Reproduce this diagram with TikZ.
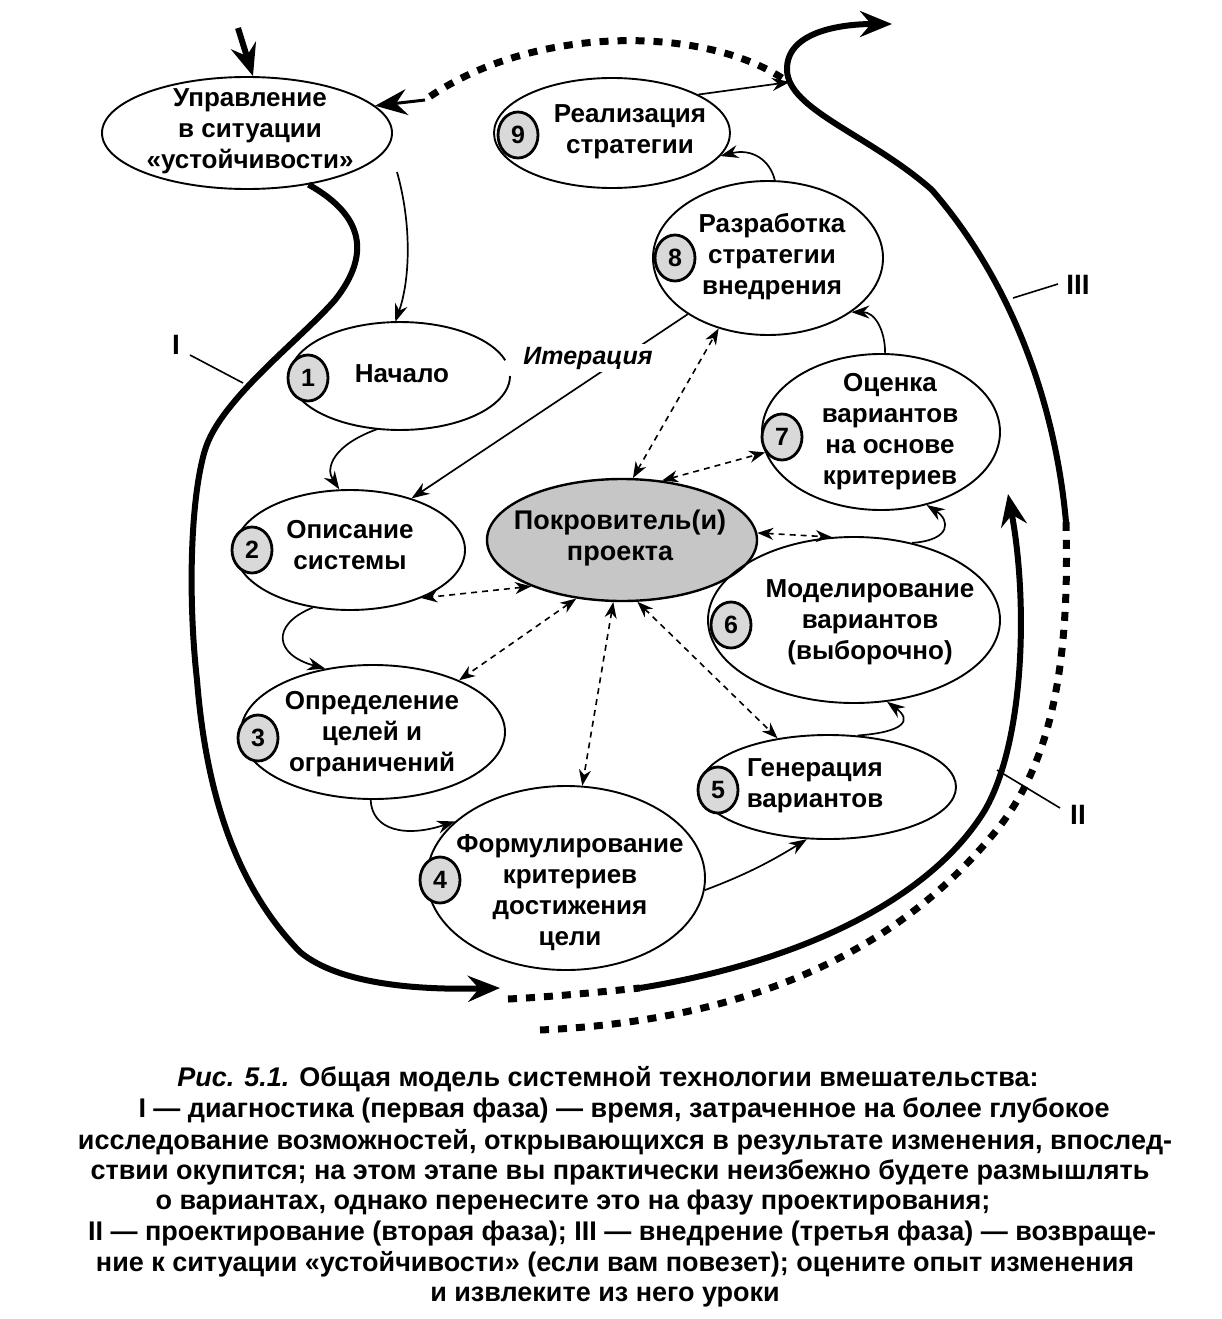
\documentclass[tikz,border=0pt]{standalone}
\usepackage{fontspec}
\setmainfont{Liberation Sans}
\usetikzlibrary{shapes.geometric,arrows.meta}
\begin{document}
\begin{tikzpicture}[x=1pt,y=-1pt,
  ell/.style={ellipse,draw,line width=1.9pt,inner sep=0pt},
  num/.style={ellipse,draw,line width=2.8pt,fill=gray!30,minimum width=40pt,minimum height=46pt,inner sep=0pt,font=\bfseries\fontsize{25}{25}\selectfont},
  lbl/.style={align=center,font=\bfseries\fontsize{26}{31}\selectfont,inner sep=0pt},
  arr/.style={line width=1.7pt,-{Stealth[length=18pt,width=13pt,inset=6pt]}},
  darr/.style={line width=1.6pt,dash pattern=on 6pt off 5pt,{Stealth[length=16pt,width=12pt,inset=5pt]}-{Stealth[length=16pt,width=12pt,inset=5pt]}},
  big/.style={line width=6pt},
  bigdot/.style={line width=7pt,dash pattern=on 9pt off 9pt},
  bigtip/.style={-{Stealth[length=32pt,width=26pt,inset=11pt]}},
  phase/.style={font=\bfseries\fontsize{28}{28}\selectfont,inner sep=0pt},
  captext/.style={font=\bfseries\fontsize{27}{31}\selectfont,inner sep=0pt,anchor=base}
]
\useasboundingbox (0,0) rectangle (1221,1319);

% ellipses
\node[ell,minimum width=290pt,minimum height=112pt] (U) at (247,133) {};
\node[ell,minimum width=236pt,minimum height=110pt] (R9) at (612,133) {};
\node[ell,minimum width=230pt,minimum height=154pt] (R8) at (768,258) {};
\node[ellipse,inner sep=0pt,minimum width=220pt,minimum height=108pt] (N1) at (400,376) {};
\draw[line width=1.9pt] plot[domain=0:343,samples=80] ({400+110*cos(\x)},{376+54*sin(\x)});
\node[ell,minimum width=238pt,minimum height=156pt] (O7) at (881,432) {};
\node[ell,minimum width=230pt,minimum height=120pt] (D2) at (350,550) {};
\node[ell,fill=gray!45,line width=2.4pt,minimum width=270pt,minimum height=122pt] (P) at (622,540) {};
\node[ell,minimum width=292pt,minimum height=166pt] (M6) at (854,620) {};
\node[ell,minimum width=264pt,minimum height=134pt] (O3) at (373,732) {};
\node[ell,minimum width=256pt,minimum height=104pt] (G5) at (828,787) {};
\node[ell,minimum width=278pt,minimum height=184pt] (F4) at (566,878) {};

% number circles
\node[num] (n9) at (518,135) {9};
\node[num] (n8) at (675,258) {8};
\node[num] (n1) at (308,378) {1};
\node[num] (n7) at (782,437) {7};
\node[num] (n2) at (252,550) {2};
\node[num] (n6) at (731,625) {6};
\node[num] (n3) at (258,738) {3};
\node[num] (n5) at (718,790) {5};
\node[num] (n4) at (440,880) {4};

% texts
\node[lbl] (tU) at (250,131) {Управление\\в ситуации\\«устойчивости»};
\node[lbl] (t9) at (630,132) {Реализация\\стратегии};
\node[lbl] (t8) at (772,257) {Разработка\\стратегии\\внедрения};
\node[lbl] (t1) at (402,374) {Начало};
\node[lbl] (t7) at (890,432) {Оценка\\вариантов\\на основе\\критериев};
\node[lbl] (t2) at (350,545) {Описание\\системы};
\node[lbl,font=\bfseries\fontsize{27}{31}\selectfont] (tP) at (620,538) {Покровитель(и)\\проекта};
\node[lbl] (t6) at (870,622) {Моделирование\\вариантов\\(выборочно)};
\node[lbl] (t3) at (372,734) {Определение\\целей и\\ограничений};
\node[lbl] (t5) at (815,786) {Генерация\\вариантов};
\node[lbl] (t4) at (570,893) {Формулирование\\критериев\\достижения\\цели};

% iteration
\draw[arr] (R8.215) -- (D2.40);
\node[lbl,fill=white,inner sep=3pt,font=\bfseries\itshape\fontsize{25}{25}\selectfont] (it) at (588,358) {Итерация};

% solid thin arrows
\coordinate (s0) at (397,172);
\draw[arr] (s0) .. controls (412,225) and (410,280) .. (N1.95);
\draw[arr] (N1.247) .. controls (333,445) and (325,468) .. (D2.100);
\draw[arr] (D2.237) .. controls (270,625) and (275,655) .. (O3.127);
\draw[arr] (O3.268) .. controls (372,830) and (405,838) .. (F4.153);
\draw[arr] (F4.355) .. controls (745,875) and (770,862) .. (G5.248);
\draw[arr] (G5.60) .. controls (905,732) and (912,720) .. (M6.292);
\draw[arr] (M6.53) .. controls (952,540) and (950,520) .. (O7.302);
\draw[arr] (O7.87) .. controls (885,330) and (875,312) .. (R8.327);
\draw[arr] (R8.85) .. controls (770,160) and (752,148) .. (R9.348);
\coordinate (e9) at (790,82);
\draw[arr] (R9.24) -- (e9);

% dashed double arrows
\draw[darr] (P.80) -- (R8.235);
\draw[darr] (P.56) -- (O7.190);
\draw[darr] (P.3) -- (M6.105);
\draw[darr] (P.207) -- (D2.326);
\draw[darr] (P.232) -- (O3.31);
\draw[darr] (P.262) -- (F4.80);
\draw[darr] (P.284) -- (G5.136);

% top input arrow
\coordinate (topin) at (238,28);
\draw[big,bigtip] (topin) -- (U.84);

% curve I
\coordinate (c1) at (500,988);
\draw[big,bigtip] (U.320) .. controls (372,220) and (365,262) .. (335,300)
   .. controls (300,340) and (220,400) .. (205,450)
   .. controls (190,500) and (188,600) .. (197,680)
   .. controls (205,780) and (230,880) .. (300,952)
   .. controls (340,985) and (420,990) .. (c1);
% curve II
\coordinate (c2a) at (508,999);
\coordinate (c2b) at (640,988);
\coordinate (c2c) at (1008,494);
\draw[bigdot] (c2a) .. controls (550,997) and (600,992) .. (c2b);
\draw[big,bigtip] (c2b) .. controls (800,962) and (930,900) .. (985,810)
   .. controls (1025,740) and (1028,600) .. (c2c);
% curve III
\coordinate (c3a) at (540,1030);
\coordinate (c3b) at (1066,522);
\coordinate (c3c) at (892,24);
\draw[bigdot] (c3a) .. controls (760,1020) and (900,945) .. (990,838)
   .. controls (1050,770) and (1070,670) .. (c3b);
\draw[big,bigtip] (c3b) .. controls (1055,400) and (1010,280) .. (932,190)
   .. controls (870,135) and (788,110) .. (787,70)
   .. controls (786,32) and (840,24) .. (c3c);
% dotted return to U
\coordinate (c4) at (782,78);
\coordinate (c4b) at (425,100);
\draw[bigdot] (c4) .. controls (700,25) and (530,25) .. (c4b);
\draw[line width=3pt,bigtip] (c4b) -- (U.12);

% phase labels
\node[phase] (L1) at (176,345) {I};
\coordinate (L1a) at (190,355);
\coordinate (L1b) at (243,383);
\draw[line width=1.6pt] (L1a) -- (L1b);
\node[phase] (L3) at (1078,285) {III};
\coordinate (L3a) at (1058,284);
\coordinate (L3b) at (1013,298);
\draw[line width=1.6pt] (L3a) -- (L3b);
\node[phase] (L2) at (1078,815) {II};
\coordinate (L2a) at (1060,808);
\coordinate (L2b) at (997,770);
\draw[line width=1.6pt] (L2a) -- (L2b);

% caption
\node[captext] (k1) at (608,1086) {\textit{Рис. 5.1.} Общая модель системной технологии вмешательства:};
\node[captext] (k2) at (624,1117) {I — диагностика (первая фаза) — время, затраченное на более глубокое};
\node[captext] (k3) at (625,1149) {исследование возможностей, открывающихся в результате изменения, впослед-};
\node[captext] (k4) at (620,1179) {ствии окупится; на этом этапе вы практически неизбежно будете размышлять};
\node[captext] (k5) at (573,1209) {о вариантах, однако перенесите это на фазу проектирования;};
\node[captext] (k6) at (622,1240) {II — проектирование (вторая фаза); III — внедрение (третья фаза) — возвраще-};
\node[captext] (k7) at (615,1271) {ние к ситуации «устойчивости» (если вам повезет); оцените опыт изменения};
\node[captext] (k8) at (605,1301) {и извлеките из него уроки};
\end{tikzpicture}
\end{document}
